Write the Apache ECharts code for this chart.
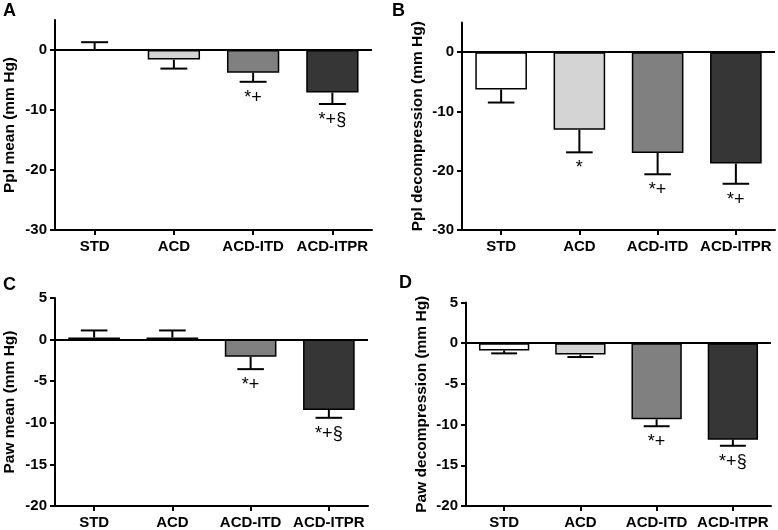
<!DOCTYPE html>
<html>
<head>
<meta charset="utf-8">
<script src="https://cdn.jsdelivr.net/npm/echarts@6/dist/echarts.min.js"></script>
<style>
html,body{margin:0;padding:0;background:#fff;}
#chart{width:778px;height:530px;}
</style>
</head>
<body>
<div id="chart"></div>
<script>
// ---- data ----
const categories = ['STD', 'ACD', 'ACD-ITD', 'ACD-ITPR'];

const pplMean = [0.1, -1.6, -3.8, -7.1];
const pplMeanErr = [1.2, 1.5, 1.5, 1.9];
const pplMeanMarks = ['', '', '*+', '*+§'];

const pplDecomp = [-6.3, -13.1, -17.0, -18.8];
const pplDecompErr = [2.2, 3.8, 3.6, 3.4];
const pplDecompMarks = ['', '*', '*+', '*+'];

const pawMean = [0.25, 0.25, -2.05, -8.45];
const pawMeanErr = [0.85, 0.85, 1.5, 0.95];
const pawMeanMarks = ['', '', '*+', '*+§'];

const pawDecomp = [-0.9, -1.4, -9.35, -11.85];
const pawDecompErr = [0.35, 0.3, 0.85, 0.75];
const pawDecompMarks = ['', '', '*+', '*+§'];

const panelLetters = ['A', 'B', 'C', 'D'];
const axisTitles = ['Ppl mean (mm Hg)', 'Ppl decompression (mm Hg)', 'Paw mean (mm Hg)', 'Paw decompression (mm Hg)'];
const ticksAB = [0, -10, -20, -30];

// ---- styling ----
const FONT = "'Liberation Sans', Arial, Helvetica, sans-serif";
const barColors = ['#ffffff', '#d4d4d4', '#808080', '#363636'];

const panels = [
  { vals: pplMean, errs: pplMeanErr, marks: pplMeanMarks, min: -30, max: 5, interval: 10, custom: ticksAB,
    grid: { left: 55, top: 20, width: 317, height: 210 }, letter: { left: 3, top: 2 }, nameGap: 37 },
  { vals: pplDecomp, errs: pplDecompErr, marks: pplDecompMarks, min: -30, max: 5, interval: 10, custom: ticksAB,
    grid: { left: 462, top: 22.5, width: 313, height: 207.5 }, letter: { left: 392, top: 2 }, nameGap: 36 },
  { vals: pawMean, errs: pawMeanErr, marks: pawMeanMarks, min: -20, max: 5, interval: 5, custom: null,
    grid: { left: 55, top: 298, width: 313, height: 208.5 }, letter: { left: 3, top: 276 }, nameGap: 37 },
  { vals: pawDecomp, errs: pawDecompErr, marks: pawDecompMarks, min: -20, max: 5, interval: 5, custom: null,
    grid: { left: 466, top: 302.5, width: 305, height: 204 }, letter: { left: 399, top: 274 }, nameGap: 36 }
];

const grids = [], xAxes = [], yAxes = [], series = [], titles = [];

panels.forEach((p, k) => {
  grids.push(Object.assign({ containLabel: false }, p.grid));
  titles.push({
    text: panelLetters[k], left: p.letter.left, top: p.letter.top, padding: 0,
    textStyle: { fontFamily: FONT, fontSize: 18, fontWeight: 'bold', color: '#000' }
  });
  xAxes.push({
    type: 'category', gridIndex: k, data: categories, position: 'bottom',
    axisLine: { show: true, onZero: false, lineStyle: { color: '#000', width: 2 } },
    axisTick: { show: true, alignWithLabel: true, length: 5, lineStyle: { color: '#000', width: 2 } },
    axisLabel: { fontFamily: FONT, fontSize: 15, fontWeight: 'bold', color: '#000', margin: 9, interval: 0 },
    splitLine: { show: false }
  });
  const yAxis = {
    type: 'value', gridIndex: k, min: p.min, max: p.max, interval: p.interval,
    name: axisTitles[k], nameLocation: 'middle', nameRotate: 90, nameGap: p.nameGap,
    nameTextStyle: { fontFamily: FONT, fontSize: 15.5, fontWeight: 'bold', color: '#000' },
    axisLine: { show: true, onZero: false, lineStyle: { color: '#000', width: 2 } },
    axisTick: { show: true, length: 5, lineStyle: { color: '#000', width: 2 } },
    axisLabel: { fontFamily: FONT, fontSize: 15, fontWeight: 'bold', color: '#000', margin: 8 },
    splitLine: { show: false }
  };
  if (p.custom) {
    yAxis.axisTick.customValues = p.custom;
    yAxis.axisLabel.customValues = p.custom;
  }
  yAxes.push(yAxis);

  series.push({
    type: 'bar', xAxisIndex: k, yAxisIndex: k, barWidth: '66%', z: 2,
    data: p.vals.map((v, i) => ({ value: v, itemStyle: { color: barColors[i], borderColor: '#000', borderWidth: 1.5 } })),
    markLine: {
      silent: true, symbol: ['none', 'none'], label: { show: false }, z: 5,
      lineStyle: { color: '#000', width: 2, type: 'solid' },
      data: [{ yAxis: 0 }]
    }
  });

  series.push({
    type: 'custom', xAxisIndex: k, yAxisIndex: k, z: 3,
    data: p.vals.map((v, i) => [i, v, p.errs[i]]),
    encode: { x: 0, y: 1 },
    renderItem: function (params, api) {
      const i = api.value(0), v = api.value(1), e = api.value(2);
      const end = v >= 0 ? v + e : v - e;
      const a = api.coord([i, v]);
      const b = api.coord([i, end]);
      const half = api.size([1, 0])[0] * 0.17;
      const st = { stroke: '#000', lineWidth: 2 };
      return {
        type: 'group',
        children: [
          { type: 'line', shape: { x1: a[0], y1: a[1], x2: b[0], y2: b[1] }, style: st },
          { type: 'line', shape: { x1: b[0] - half, y1: b[1], x2: b[0] + half, y2: b[1] }, style: st }
        ]
      };
    }
  });

  series.push({
    type: 'custom', xAxisIndex: k, yAxisIndex: k, z: 4,
    data: p.vals.map((v, i) => [i, v - p.errs[i], p.marks[i]]),
    encode: { x: 0, y: 1 },
    renderItem: function (params, api) {
      const idx = params.dataIndex;
      const txt = p.marks[idx];
      if (!txt) return null;
      const pt = api.coord([api.value(0), api.value(1)]);
      return {
        type: 'text',
        x: pt[0], y: pt[1] + 16,
        style: { text: txt, fontFamily: FONT, fontSize: 18, fill: '#000', align: 'center', verticalAlign: 'middle' }
      };
    }
  });
});

const chart = echarts.init(document.getElementById('chart'), null, { renderer: 'canvas' });
chart.setOption({
  backgroundColor: '#ffffff',
  animation: false,
  title: titles,
  grid: grids,
  xAxis: xAxes,
  yAxis: yAxes,
  series: series
});
</script>
</body>
</html>
